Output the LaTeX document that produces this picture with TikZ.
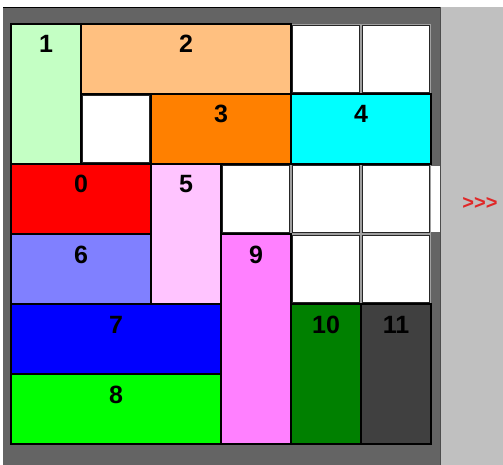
\documentclass[tikz,border=0pt]{standalone}
\usepackage{fontspec}
\setmainfont{Liberation Sans}
\definecolor{frame}{HTML}{646464}
\definecolor{side}{HTML}{C0C0C0}
\definecolor{slot}{HTML}{A0A0A0}
\definecolor{pzero}{HTML}{FF0000}
\definecolor{pone}{HTML}{C4FFC4}
\definecolor{ptwo}{HTML}{FFC080}
\definecolor{pthree}{HTML}{FF8000}
\definecolor{pfour}{HTML}{00FFFF}
\definecolor{pfive}{HTML}{FFC4FF}
\definecolor{psix}{HTML}{8080FF}
\definecolor{pseven}{HTML}{0000FF}
\definecolor{peight}{HTML}{00FF00}
\definecolor{pnine}{HTML}{FF80FF}
\definecolor{pten}{HTML}{008000}
\definecolor{peleven}{HTML}{404040}
\definecolor{arrowred}{HTML}{E02828}
\begin{document}
\begin{tikzpicture}[x=1pt, y=-1pt,
    block/.style={draw=black, line width=2pt},
    hole/.style={draw=black!85, fill=white, line width=1.3pt},
    num/.style={anchor=base, font=\fontsize{25}{25}\selectfont\bfseries, inner sep=0pt}]
    \useasboundingbox (0,0) rectangle (503,465);
    % Background and frame
    \fill[side] (441,7) rectangle (503,465);
    \fill[frame] (3,7) rectangle (441,465);
    \draw[black, line width=1.5pt] (3,7.5) -- (441,7.5);
    \draw[black!70, line width=1pt] (440.5,7) -- (440.5,465);
    \fill[slot] (11,24) rectangle (431,444);
    % Exit slot on the right of row 2
    \fill[white] (431,166) rectangle (440,232);
    % Empty cells
    \foreach \c/\r in {4/0, 5/0, 1/1, 3/2, 4/2, 5/2, 4/3, 5/3}
      \draw[hole] (11+70*\c+1.5, 24+70*\r+1.5) rectangle (11+70*\c+68.5, 24+70*\r+68.5);
    % Blocks
    \draw[block, fill=pone]    (11,24)   rectangle (81,164);
    \draw[block, fill=ptwo]    (81,24)   rectangle (291,94);
    \draw[block, fill=pthree]  (151,94)  rectangle (291,164);
    \draw[block, fill=pfour]   (291,94)  rectangle (431,164);
    \draw[block, fill=pzero]   (11,164)  rectangle (151,234);
    \draw[block, fill=pfive]   (151,164) rectangle (221,304);
    \draw[block, fill=psix]    (11,234)  rectangle (151,304);
    \draw[block, fill=pnine]   (221,234) rectangle (291,444);
    \draw[block, fill=pseven]  (11,304)  rectangle (221,374);
    \draw[block, fill=pten]    (291,304) rectangle (361,444);
    \draw[block, fill=peleven] (361,304) rectangle (431,444);
    \draw[block, fill=peight]  (11,374)  rectangle (221,444);
    % Block numbers
    \node[num] (n1)  at (46,53)   {1};
    \node[num] (n2)  at (186,53)  {2};
    \node[num] (n3)  at (221,123) {3};
    \node[num] (n4)  at (361,123) {4};
    \node[num] (n0)  at (81,193)  {0};
    \node[num] (n5)  at (186,193) {5};
    \node[num] (n6)  at (81,263)  {6};
    \node[num] (n9)  at (256,263) {9};
    \node[num] (n7)  at (116,333) {7};
    \node[num] (n10) at (326,333) {10};
    \node[num] (n11) at (396,333) {11};
    \node[num] (n8)  at (116,403) {8};
    % Exit mark
    \node[text=arrowred, font=\fontsize{20}{20}\selectfont\bfseries, inner sep=0pt] (exit) at (480,203) {{>}{>}{>}};
\end{tikzpicture}
\end{document}
